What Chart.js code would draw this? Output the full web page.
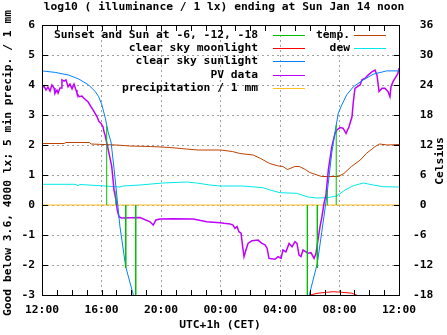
<!DOCTYPE html>
<html>
<head>
<meta charset="utf-8">
<script src="https://cdn.jsdelivr.net/npm/chart.js"></script>
<style>
  html, body { margin: 0; padding: 0; background: #fff; }
  #wrap { width: 447px; height: 335px; }
</style>
</head>
<body>
<div id="wrap"><canvas id="illuminanceChart" width="447" height="335"></canvas></div>
<script>
// hours since Sat 12:00 (CET) on the x axis
const xTickLabels = ['12:00', '16:00', '20:00', '00:00', '04:00', '08:00', '12:00'];

// sunset / sunrise and sun at -6, -12, -18 degrees
const sunEventHours = [4.35, 4.97, 5.63, 6.30, 17.84, 18.51, 19.18, 19.78];
const sunEventLevels = [2.62, 0.48, -2.1, -3.5, -3.5, -2.1, 0.5, 2.67];

const moonHours = [18.02, 18.55, 19.14, 19.58, 20.15, 20.82, 21.16];
const moonValues = [-3.0, -2.94, -2.91, -2.89, -2.91, -2.94, -3.0];

const clearSkyHours = [0, 0.89, 1.80, 2.47, 3.14, 3.58, 3.81, 4.03, 4.26, 4.44, 4.64, 4.84, 4.97, 5.24, 5.63, 6.14, 6.32, 12,
  17.88, 17.97, 18.51, 18.80, 19.14, 19.48, 19.70, 19.92, 20.15, 20.48, 20.93, 21.60, 22.27, 23.17, 24];
const clearSkyValues = [4.47, 4.42, 4.33, 4.20, 4.00, 3.78, 3.61, 3.33, 2.89, 2.44, 2.10, 1.23, 0.61, -0.72, -2.06, -3.0, -3.5, null,
  -3.33, -3.0, -1.94, -0.93, 0.28, 1.73, 2.44, 3.06, 3.33, 3.67, 3.94, 4.17, 4.36, 4.47, 4.47];

const pvHours = [0.00, 0.13, 0.27, 0.40, 0.54, 0.67, 0.81, 0.87, 1.01, 1.08, 1.21, 1.31, 1.34, 1.48, 1.61, 1.75, 1.88, 2.02,
  2.15, 2.29, 2.35, 2.49, 2.69, 2.82, 3.09, 3.29, 3.43, 3.56, 3.70, 3.83, 3.97, 4.10, 4.17, 4.24, 4.46, 4.69, 4.84,
  4.97, 5.06, 5.18, 5.36, 6.59, 7.26, 7.48, 7.66, 7.93, 8.83, 10.17, 11.07, 11.97, 12.24, 12.64, 12.84, 12.97, 13.11,
  13.24, 13.38, 13.49, 13.58, 13.71, 13.85, 14.12, 14.52, 14.79, 14.99, 15.13, 15.26, 15.66, 15.87, 16.07, 16.20,
  16.40, 16.61, 16.81, 17.01, 17.14, 17.28, 17.41, 17.55, 17.75, 17.88, 18.08, 18.29, 18.42, 18.55, 18.69, 18.82,
  18.96, 19.09, 19.25, 19.48, 19.70, 19.83, 20.03, 20.24, 20.44, 20.64, 20.84, 20.93, 21.04, 21.18, 21.38, 21.51,
  21.71, 21.92, 22.18, 22.39, 22.52, 22.66, 22.86, 23.06, 23.26, 23.39, 23.46, 23.60, 23.80, 23.93, 24.00];
const pvValues = [3.89, 3.97, 3.83, 3.93, 3.80, 4.00, 3.90, 3.72, 3.83, 3.73, 3.90, 3.90, 4.17, 4.13, 4.17, 3.94, 4.03, 3.87,
  4.03, 3.83, 3.72, 3.61, 3.63, 3.56, 3.44, 3.28, 3.17, 3.06, 2.94, 2.78, 2.72, 2.61, 2.44, 2.33, 1.83, 1.28, 0.50,
  0.17, -0.17, -0.40, -0.43, -0.42, -0.56, -0.67, -0.50, -0.47, -0.46, -0.47, -0.56, -0.59, -0.61, -0.63, -0.67, -0.78, -0.72,
  -0.89, -0.94, -1.39, -1.72, -1.50, -1.28, -1.19, -1.17, -1.28, -1.33, -1.44, -1.78, -1.81, -1.72, -1.78, -1.50,
  -1.56, -1.28, -1.39, -1.22, -1.28, -1.67, -1.72, -1.50, -1.56, -1.61, -1.59, -1.78, -1.61, -1.17, -0.72, -0.39,
  0.06, 0.33, 1.17, 1.94, 2.39, 2.50, 2.58, 2.56, 2.39, 2.61, 2.94, 3.44, 3.89, 3.94, 4.00, 4.17,
  4.22, 4.33, 4.44, 4.50, 4.33, 3.78, 3.89, 3.89, 3.78, 3.61, 3.94, 4.11, 4.28, 4.39, 4.56];

const precipHours = [0, 24];
const precipValues = [0, 0];

const tempHours = [0, 1.5, 1.6, 3.2, 3.3, 5.0, 5.9, 7.3, 8.6, 9.7, 10.5, 12.0, 12.8, 13.3, 14.2, 14.7, 15.3, 15.9,
  16.2, 16.5, 17.0, 17.3, 17.7, 18.0, 18.5, 18.8, 19.9, 20.3, 20.8, 21.4, 21.8, 22.4, 22.7, 23.2, 24];
const tempValues = [12.3, 12.3, 12.5, 12.5, 12.2, 12.0, 11.8, 11.7, 11.5, 11.2, 11.0, 11.0, 10.7, 10.3, 10.0, 9.3, 8.3, 7.8,
  7.7, 7.1, 7.7, 7.7, 7.1, 6.5, 6.0, 5.7, 5.7, 6.3, 7.7, 9.0, 10.3, 11.7, 12.2, 12.0, 12.1];

const dewHours = [0, 2.22, 2.42, 2.55, 4.24, 5.24, 5.45, 6.59, 8.13, 9.73, 10.4, 11.29, 11.97, 13.51, 14.86, 15.33, 16.0,
  17.12, 17.88, 18.47, 19.14, 19.81, 20.37, 20.93, 21.6, 22.27, 22.94, 24];
const dewValues = [4.14, 4.14, 3.86, 4.1, 3.8, 3.6, 3.8, 4.0, 4.4, 4.6, 4.4, 4.0, 3.8, 3.8, 3.46, 3.0, 2.46,
  2.34, 1.6, 1.4, 1.46, 1.8, 3.0, 3.86, 4.4, 4.0, 3.66, 3.6];

const legendLeft = ['Sunset and Sun at -6, -12, -18', 'clear sky moonlight', 'clear sky sunlight', 'PV data', 'precipitation / 1 mm'];
const legendRight = ['temp.', 'dew'];

const FONT = "bold 11.3px 'DejaVu Sans Mono', monospace";

function toPoints(xs, ys) {
  return xs.map((x, i) => ({ x: x, y: ys[i] }));
}

function sunLinePoints() {
  const pts = [];
  sunEventHours.forEach((h, i) => {
    pts.push({ x: h, y: 0 }, { x: h, y: sunEventLevels[i] }, { x: h, y: null });
  });
  return pts;
}

function lineSet(label, data, color, axis, width) {
  return {
    label: label,
    data: data,
    borderColor: color,
    backgroundColor: color,
    borderWidth: width || 1,
    pointRadius: 0,
    tension: 0,
    spanGaps: false,
    clip: 0,
    yAxisID: axis || 'y',
  };
}

const gnuplotDecor = {
  id: 'gnuplotDecor',
  afterDraw(chart) {
    const { ctx, chartArea: a, scales } = chart;
    ctx.save();
    ctx.fillStyle = '#000';
    const L = Math.round(a.left), R = Math.round(a.right), T = Math.round(a.top), B = Math.round(a.bottom);
    // frame
    ctx.fillRect(L, T, R - L + 1, 1);
    ctx.fillRect(L, B, R - L + 1, 1);
    ctx.fillRect(L, T, 1, B - T + 1);
    ctx.fillRect(R, T, 1, B - T + 1);
    // inward ticks
    for (let h = 1; h < 24; h++) {
      const x = Math.round(scales.x.getPixelForValue(h));
      ctx.fillRect(x, B - 5, 1, 5);
      ctx.fillRect(x, T + 1, 1, 5);
    }
    for (let v = -2; v < 6; v++) {
      const y = Math.round(scales.y.getPixelForValue(v));
      ctx.fillRect(L + 1, y, 5, 1);
      ctx.fillRect(R - 5, y, 5, 1);
    }

    // legend, two columns as gnuplot draws it
    ctx.font = FONT;
    ctx.textBaseline = 'middle';
    ctx.textAlign = 'right';
    const byLabel = {};
    chart.data.datasets.forEach((d) => { byLabel[d.label] = d.borderColor; });
    const columns = [[legendLeft, 258, 273, 305], [legendRight, 350, 354, 386]];
    columns.forEach(([labels, textRight, x0, x1]) => {
      labels.forEach((label, i) => {
        const y = 35 + i * 13.2;
        ctx.fillStyle = '#000';
        ctx.fillText(label, textRight, y);
        ctx.fillStyle = byLabel[label];
        ctx.fillRect(x0, Math.round(y), x1 - x0, 1);
      });
    });

    // titles
    ctx.fillStyle = '#000';
    ctx.textAlign = 'center';
    ctx.fillText('log10 ( illuminance / 1 lx) ending at Sun Jan 14 noon', 224, 7);
    ctx.fillText('UTC+1h (CET)', 220, 325);
    ctx.save();
    ctx.translate(8, 163);
    ctx.rotate(-Math.PI / 2);
    ctx.fillText('Good below 3.6, 4000 lx; 5 min precip. / 1 mm', 0, 0);
    ctx.restore();
    ctx.save();
    ctx.translate(440, 161);
    ctx.rotate(-Math.PI / 2);
    ctx.fillText('Celsius', 0, 0);
    ctx.restore();
    ctx.restore();
  },
};

function gridColor(min, max) {
  return (c) => (c.tick.value <= min || c.tick.value >= max ? 'rgba(0,0,0,0)' : '#a0a0a0');
}

function illuminanceChart() {
  const ctx = document.getElementById('illuminanceChart');
  if (!ctx) return;

  Chart.defaults.font.family = "'DejaVu Sans Mono', monospace";
  Chart.defaults.font.size = 11.3;
  Chart.defaults.font.weight = 'bold';
  Chart.defaults.color = '#000';

  new Chart(ctx, {
    type: 'line',
    data: {
      datasets: [
        lineSet(legendLeft[0], sunLinePoints(), '#00c000'),
        lineSet(legendLeft[1], toPoints(moonHours, moonValues), '#ff0000'),
        lineSet(legendLeft[2], toPoints(clearSkyHours, clearSkyValues), '#0080ff'),
        lineSet(legendLeft[3], toPoints(pvHours, pvValues), '#c000ff', 'y', 1.5),
        lineSet(legendLeft[4], toPoints(precipHours, precipValues), '#ffc020'),
        lineSet(legendRight[0], toPoints(tempHours, tempValues), '#c04000', 'y2'),
        lineSet(legendRight[1], toPoints(dewHours, dewValues), '#00e8e8', 'y2'),
      ],
    },
    options: {
      responsive: false,
      animation: false,
      layout: { padding: { top: 25, left: 0, right: 0, bottom: 0 } },
      scales: {
        x: {
          type: 'linear',
          min: 0,
          max: 24,
          afterFit: (s) => { s.height = 40; },
          ticks: {
            stepSize: 4,
            autoSkip: false,
            maxRotation: 0,
            padding: 8,
            callback: (value) => xTickLabels[value / 4],
          },
          grid: { color: gridColor(0, 24), drawTicks: false },
          border: { display: false, dash: [2, 3] },
        },
        y: {
          position: 'left',
          min: -3,
          max: 6,
          afterFit: (s) => { s.width = 42; },
          ticks: { stepSize: 1, padding: 7 },
          grid: { color: gridColor(-3, 6), drawTicks: false },
          border: { display: false, dash: [2, 3] },
        },
        y2: {
          position: 'right',
          min: -18,
          max: 36,
          afterFit: (s) => { s.width = 48; },
          ticks: {
            stepSize: 6,
            padding: 6,
            callback: (value) => (value < 0 ? '' : ' ') + value,
          },
          grid: { display: false },
          border: { display: false },
        },
      },
      plugins: {
        legend: { display: false },
        title: { display: false },
        tooltip: { enabled: false },
      },
    },
    plugins: [gnuplotDecor],
  });
}

illuminanceChart();
</script>
</body>
</html>
